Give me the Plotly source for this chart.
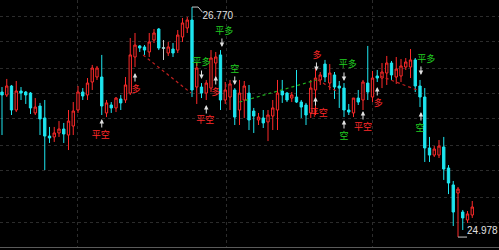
import plotly.graph_objects as go

# ---------------- data ----------------
idx = list(range(100))
opens = [26.108, 26.085, 26.155, 25.968, 26.116, 26.108, 26.100, 25.945, 25.999, 25.906,
         25.765, 25.758, 25.789, 25.820, 25.773, 25.843, 25.968, 26.108, 26.085, 26.186,
         26.225, 26.225, 25.945, 26.007, 25.984, 26.054, 26.046, 26.100, 26.381, 26.467,
         26.459, 26.420, 26.513, 26.599, 26.451, 26.412, 26.443, 26.435, 26.537, 26.607,
         26.669, 26.147, 26.147, 26.100, 26.139, 26.334, 26.397, 26.046, 26.069, 26.124,
         25.968, 26.046, 26.100, 25.960, 25.890, 25.906, 25.875, 25.921, 25.968, 26.116,
         26.100, 26.061, 26.069, 26.030, 26.007, 25.945, 26.124, 26.202, 26.326, 26.178,
         26.241, 26.155, 26.139, 25.968, 25.945, 26.061, 26.046, 26.178, 26.069, 26.233,
         26.217, 26.256, 26.334, 26.225, 26.233, 26.303, 26.303, 26.358, 26.155, 26.069,
         25.672, 25.617, 25.617, 25.680, 25.516, 25.384, 25.321, 25.173, 25.111, 25.150]
highs = [26.147, 26.210, 26.163, 26.194, 26.147, 26.116, 26.108, 26.061, 26.023, 26.046,
         25.836, 25.836, 25.882, 25.867, 25.968, 26.030, 26.155, 26.139, 26.217, 26.319,
         26.311, 26.397, 26.046, 26.030, 26.069, 26.085, 26.225, 26.529, 26.568, 26.474,
         26.474, 26.568, 26.599, 26.607, 26.513, 26.498, 26.490, 26.591, 26.685, 26.693,
         26.770, 26.334, 26.178, 26.202, 26.435, 26.420, 26.435, 26.186, 26.202, 26.139,
         26.202, 26.194, 26.163, 25.984, 25.945, 25.968, 25.968, 26.046, 26.202, 26.202,
         26.108, 26.108, 26.280, 26.046, 26.023, 26.202, 26.295, 26.264, 26.358, 26.326,
         26.264, 26.194, 26.178, 26.015, 26.061, 26.124, 26.202, 26.467, 26.272, 26.280,
         26.334, 26.389, 26.350, 26.381, 26.365, 26.373, 26.443, 26.373, 26.202, 26.139,
         25.758, 25.687, 25.734, 25.758, 25.539, 25.415, 25.368, 25.189, 25.181, 25.259]
lows = [25.773, 26.069, 25.929, 25.952, 26.046, 26.015, 25.937, 25.929, 25.773, 25.500,
        25.711, 25.719, 25.758, 25.711, 25.656, 25.773, 25.945, 26.046, 26.046, 26.124,
        26.202, 25.929, 25.913, 25.945, 25.952, 25.968, 26.023, 26.085, 26.303, 26.420,
        26.397, 26.381, 26.490, 26.435, 26.358, 26.389, 26.381, 26.412, 26.498, 26.568,
        26.069, 26.015, 26.061, 26.046, 26.108, 26.202, 25.968, 26.015, 25.968, 25.851,
        25.851, 25.906, 25.812, 25.789, 25.851, 25.828, 25.726, 25.812, 25.812, 26.023,
        26.030, 26.030, 26.023, 25.906, 25.851, 25.906, 25.929, 26.163, 26.186, 26.124,
        26.054, 25.984, 25.913, 25.929, 25.913, 26.007, 25.968, 26.046, 26.030, 26.186,
        26.139, 26.163, 26.202, 26.171, 26.186, 26.280, 26.217, 26.108, 25.991, 25.563,
        25.563, 25.602, 25.594, 25.423, 25.313, 25.064, 24.978, 25.033, 25.088, 25.127]
closes = [26.085, 26.155, 25.968, 26.116, 26.100, 26.085, 25.984, 25.991, 25.898, 25.765,
          25.750, 25.789, 25.820, 25.781, 25.882, 25.960, 26.108, 26.077, 26.178, 26.295,
          26.295, 25.999, 26.023, 25.984, 26.061, 26.023, 26.163, 26.397, 26.474, 26.451,
          26.435, 26.498, 26.568, 26.451, 26.451, 26.459, 26.412, 26.552, 26.646, 26.669,
          26.124, 26.295, 26.100, 26.178, 26.373, 26.381, 26.046, 26.124, 26.171, 25.913,
          26.100, 26.155, 25.890, 25.921, 25.913, 25.867, 25.929, 25.984, 26.100, 26.085,
          26.046, 26.085, 26.030, 25.991, 25.929, 26.139, 26.217, 26.241, 26.225, 26.256,
          26.147, 26.139, 25.968, 25.952, 26.061, 26.030, 26.186, 26.108, 26.217, 26.217,
          26.264, 26.334, 26.241, 26.287, 26.311, 26.342, 26.358, 26.155, 26.069, 25.672,
          25.617, 25.664, 25.687, 25.508, 25.399, 25.173, 25.352, 25.127, 25.158, 25.212]

doji_index = 34

# signal labels (text)
lab_x = [20.8, 28.2, 42, 46.8, 45, 42.8, 49, 66.3, 66.7, 72.8, 72, 76, 79.2, 89.3, 88]
lab_y = [25.765, 26.124, 26.338, 26.580, 26.100, 25.882, 26.284, 26.393, 25.937, 26.323,
         25.758, 25.828, 26.015, 26.362, 25.820]
lab_text = ["平空", "多", "平多", "平多", "多", "平空", "空", "多", "平空", "平多", "空", "平空", "多", "平多", "空"]
lab_kind = ["red", "red", "green", "green", "red", "red", "green", "red", "red", "green",
            "green", "red", "red", "green", "green"]

# signal arrows (centre position, direction)
arr_x = [21, 28, 42, 46.3, 45, 43, 49, 66.2, 66, 72, 72, 76, 79, 88.2, 88.2]
arr_y = [25.859, 26.217, 26.248, 26.498, 26.194, 25.968, 26.202, 26.311, 26.030, 26.233,
         25.851, 25.921, 26.108, 26.280, 25.913]
arr_dir = ["up", "up", "down", "down", "up", "up", "down", "down", "up", "down",
           "up", "up", "up", "down", "up"]

# dotted signal lines
red_line1_x = [29.7, 39.8]
red_line1_y = [26.397, 26.100]
green_line_x = [50.0, 66.2]
green_line_y = [26.030, 26.202]
red_line2_x = [66.5, 70.7]
red_line2_y = [26.202, 26.108]
red_line3_x = [79.6, 87.4]
red_line3_y = [26.233, 26.124]

hi_label = "26.770"
lo_label = "24.978"
hi_idx = 40
lo_idx = 96

grid_prices = [26.700, 26.498, 26.295, 26.093, 25.898, 25.695, 25.493, 25.290, 25.088]
grid_idx = [15.8, 47.2, 78.1]

# ---------------- styles ----------------
RED = "#ff2a2a"
CYAN = "#1ee6f0"
GREEN = "#22d022"
WHITE = "#e0e0e0"
GRID = "#2c2c2c"
CJK = "Noto Sans CJK SC"
PX = 0.00779  # price per pixel of the y scale (style helper for arrow length)

fig = go.Figure()

fig.add_trace(go.Candlestick(
    x=idx, open=opens, high=highs, low=lows, close=closes,
    increasing=dict(line=dict(color=RED, width=1), fillcolor="#000000"),
    decreasing=dict(line=dict(color=CYAN, width=1), fillcolor=CYAN),
    whiskerwidth=0, hoverinfo="skip", showlegend=False,
))

# doji drawn in light gray
d = doji_index
fig.add_trace(go.Scatter(
    x=[d, d, None, d - 0.35, d + 0.35], y=[highs[d], lows[d], None, opens[d], closes[d]],
    mode="lines", line=dict(color="#c8c8c8", width=1), hoverinfo="skip", showlegend=False))

# dotted lines
for lx, ly, col in [(red_line1_x, red_line1_y, "#c02020"), (green_line_x, green_line_y, "#20b020"),
                    (red_line2_x, red_line2_y, "#c02020"), (red_line3_x, red_line3_y, "#c02020")]:
    fig.add_trace(go.Scatter(x=lx, y=ly, mode="lines", line=dict(color=col, width=1.2, dash="dot"),
                             hoverinfo="skip", showlegend=False))

# signal texts
fig.add_trace(go.Scatter(
    x=lab_x, y=lab_y, mode="text", text=lab_text,
    textfont=dict(family=CJK, size=9, color=[RED if k == "red" else GREEN for k in lab_kind]),
    textposition="middle center", hoverinfo="skip", showlegend=False))

# arrows
annotations = []
for ax_, ay_, dr in zip(arr_x, arr_y, arr_dir):
    half = 5 * PX
    tip = ay_ + half if dr == "up" else ay_ - half
    annotations.append(dict(
        x=ax_, y=tip, xref="x", yref="y", text="", showarrow=True,
        ax=0, ay=10 if dr == "up" else -10, arrowhead=2, arrowsize=0.9,
        arrowwidth=1, arrowcolor=WHITE, standoff=0, startstandoff=0))

# high / low markers
hi_val = highs[hi_idx]
lo_val = lows[lo_idx]
fig.add_trace(go.Scatter(
    x=[hi_idx, hi_idx + 1.3, hi_idx + 2.2], y=[hi_val, hi_val, hi_val - 0.04],
    mode="lines", line=dict(color="#c8c8c8", width=1), hoverinfo="skip", showlegend=False))
fig.add_trace(go.Scatter(
    x=[lo_idx, lo_idx + 1.9], y=[lo_val, lo_val],
    mode="lines", line=dict(color="#c8c8c8", width=1), hoverinfo="skip", showlegend=False))
fig.add_trace(go.Scatter(
    x=[hi_idx + 2.2, lo_idx + 1.9], y=[hi_val - 0.077, lo_val + 0.043], mode="text",
    text=[hi_label, lo_label], textposition="middle right",
    textfont=dict(family="Liberation Sans", size=10, color="#e0e0e0"),
    hoverinfo="skip", showlegend=False))

fig.update_layout(
    width=499, height=250,
    margin=dict(l=0, r=0, t=0, b=3),
    paper_bgcolor="#000000", plot_bgcolor="#000000",
    showlegend=False,
    annotations=annotations,
    xaxis=dict(range=[-0.42, 104.63], rangeslider=dict(visible=False),
               showticklabels=False, ticks="", tickvals=grid_idx,
               showgrid=True, gridcolor=GRID, gridwidth=1, griddash="dot",
               zeroline=False, showline=True, linecolor="#5a5a5a", linewidth=1, mirror=False),
    yaxis=dict(range=[24.9006, 26.825], showticklabels=False, ticks="",
               tickvals=grid_prices, showgrid=True, gridcolor=GRID, gridwidth=1, griddash="dot",
               zeroline=False, showline=False),
)

fig.write_html("out.html")
